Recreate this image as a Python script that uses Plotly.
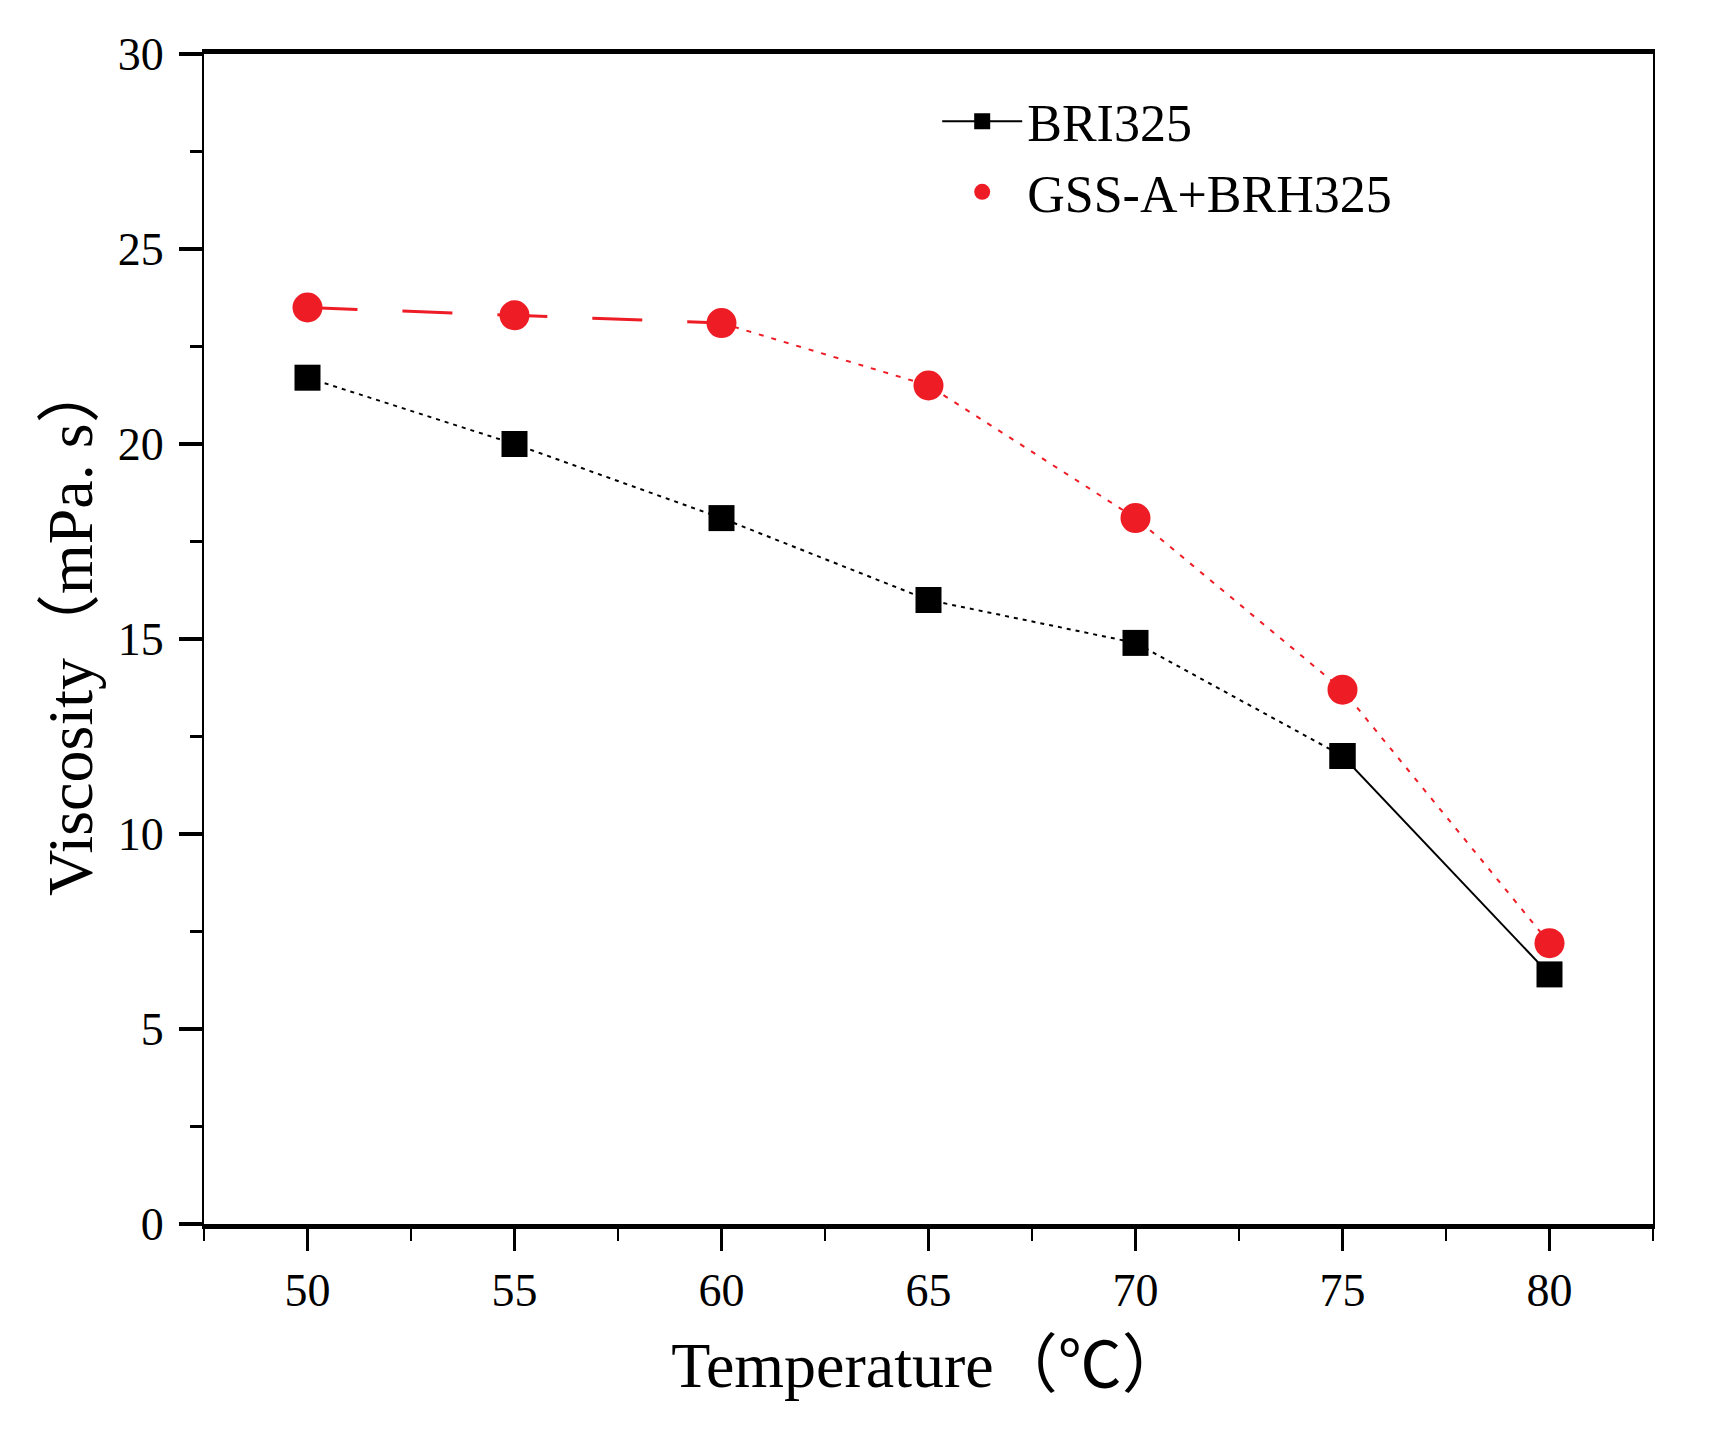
import plotly.graph_objects as go

# temperature (C) and viscosity (mPa.s)
temperature = [50, 55, 60, 65, 70, 75, 80]
bri325 = [21.7, 20.0, 18.1, 16.0, 14.9, 12.0, 6.4]
gss_bri325 = [23.5, 23.3, 23.1, 21.5, 18.1, 13.7, 7.2]

x_ticks = [50, 55, 60, 65, 70, 75, 80]
y_ticks = [0, 5, 10, 15, 20, 25, 30]

FONT = "Liberation Serif, Noto Sans CJK SC"
BLACK = "#000000"
RED = "#ee1c25"

fig = go.Figure()

# black series: dotted for most of it, solid on the last step
fig.add_trace(go.Scatter(
    x=temperature[:6], y=bri325[:6], mode="lines+markers",
    line=dict(color=BLACK, width=2, dash="4px,5px"),
    marker=dict(symbol="square", size=26, color=BLACK),
    showlegend=False))
fig.add_trace(go.Scatter(
    x=temperature[5:], y=bri325[5:], mode="lines+markers", name="BRI325",
    line=dict(color=BLACK, width=2),
    marker=dict(symbol="square", size=26, color=BLACK),
    legendrank=1))

# red series: long dashes at first, dotted afterwards
fig.add_trace(go.Scatter(
    x=temperature[:3], y=gss_bri325[:3], mode="lines",
    line=dict(color=RED, width=3, dash="50px,45px"),
    showlegend=False))
fig.add_trace(go.Scatter(
    x=temperature[2:], y=gss_bri325[2:], mode="lines",
    line=dict(color=RED, width=2, dash="5px,8px"),
    showlegend=False))
fig.add_trace(go.Scatter(
    x=temperature, y=gss_bri325, mode="markers", name="GSS-A+BRH325",
    marker=dict(symbol="circle", size=30, color=RED),
    legendrank=2))

fig.update_layout(
    width=1715, height=1430,
    margin=dict(l=196, r=70, t=46, b=214),
    paper_bgcolor="white", plot_bgcolor="white",
    font=dict(family=FONT, size=46, color=BLACK),
    legend=dict(x=0.506, y=0.977, xanchor="left", yanchor="top",
                font=dict(size=52), itemwidth=80, tracegroupgap=0,
                bgcolor="rgba(0,0,0,0)"),
)

# y title as annotation so it can sit closer to the tick labels
fig.add_annotation(
    text="Viscosity（mPa. s）", textangle=-90,
    xref="paper", yref="paper", x=-0.092, y=0.51,
    xanchor="center", yanchor="middle", showarrow=False,
    font=dict(size=64))

fig.update_xaxes(
    range=[47.5, 82.5], tickvals=x_ticks,
    showline=True, linewidth=5, linecolor=BLACK, mirror=True,
    ticks="outside", ticklen=22, tickwidth=3, tickcolor=BLACK,
    minor=dict(dtick=2.5, tick0=47.5, ticks="outside", ticklen=12,
               tickwidth=2, tickcolor=BLACK),
    showgrid=False, zeroline=False, ticklabelstandoff=0,
    title=dict(text="Temperature（℃）", font=dict(size=64), standoff=28),
)
fig.update_yaxes(
    range=[0, 30], tickvals=y_ticks,
    showline=True, linewidth=2, linecolor=BLACK, mirror=True,
    ticks="outside", ticklen=23, tickwidth=4, tickcolor=BLACK,
    minor=dict(dtick=2.5, tick0=0, ticks="outside", ticklen=12,
               tickwidth=3, tickcolor=BLACK),
    showgrid=False, zeroline=False, ticklabelstandoff=6,
)

fig.write_html("out.html")
